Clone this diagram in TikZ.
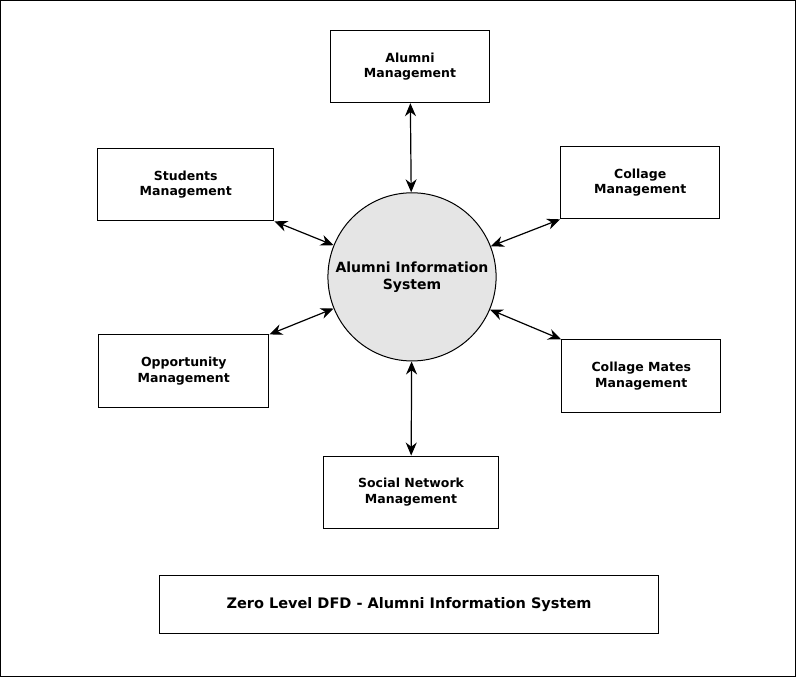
\documentclass[tikz,border=0pt]{standalone}
\usepackage{fontspec}
\setmainfont{DejaVu Sans}
\usetikzlibrary{arrows.meta, positioning}
\tikzset{
  box/.style={draw=black, line width=1pt, minimum width=#1, minimum height=72pt, align=center, font=\bfseries\fontsize{12.5}{15.5}\selectfont},
  box/.default=160pt,
  proc/.style={circle, draw=black, line width=1pt, fill=gray!20, minimum size=168pt, align=center, font=\bfseries\fontsize{14}{17}\selectfont},
  arrow/.style={{Stealth[length=13pt,width=11pt]}-{Stealth[length=13pt,width=11pt]}, line width=1.2pt}
}
\begin{document}
\begin{tikzpicture}[x=1pt, y=-1pt]
  \draw[line width=1.2pt] (1,1) rectangle (795,676);

  \node (sys) [proc] at (412, 277) {Alumni Information\\System};

  \node (alu) [box=158pt] at (410, 67) {Alumni\\Management};
  \node (stu) [box=176pt] at (186, 185) {Students\\Management};
  \node (col) [box=159pt] at (640, 183) {Collage\\Management};
  \node (opp) [box=170pt] at (184, 371) {Opportunity\\Management};
  \node (mat) [box=159pt] at (641, 376) {Collage Mates\\Management};
  \node (soc) [box=174pt] at (411, 492) {Social Network\\Management};

  \node (ttl) [box=498pt, minimum height=58pt, font=\bfseries\fontsize{14.5}{17}\selectfont] at (409, 604) {Zero Level DFD - Alumni Information System};

  \draw [arrow] (alu) -- (sys);
  \draw [arrow] (stu.south east) -- (sys);
  \draw [arrow] (col.south west) -- (sys);
  \draw [arrow] (opp.north east) -- (sys);
  \draw [arrow] (mat.north west) -- (sys);
  \draw [arrow] (soc) -- (sys);
\end{tikzpicture}
\end{document}
